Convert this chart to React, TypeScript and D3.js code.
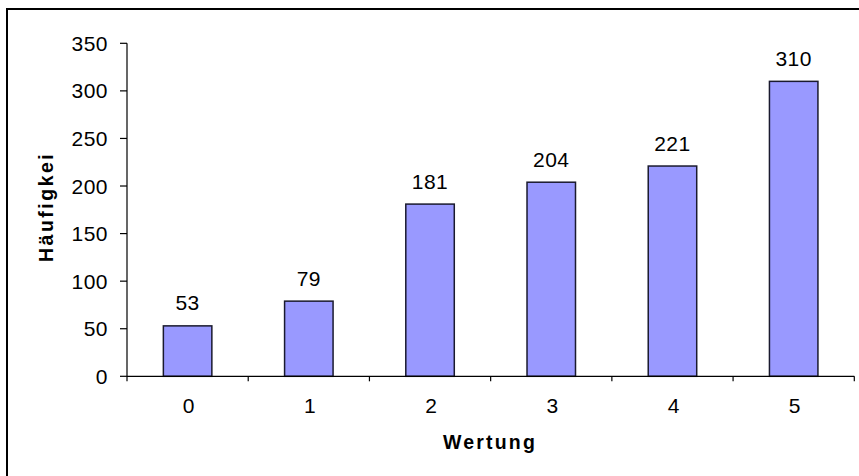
import React from "react";
import * as d3 from "d3";

const categories = ["0", "1", "2", "3", "4", "5"];
const values = [53, 79, 181, 204, 221, 310];
const yTicks = [0, 50, 100, 150, 200, 250, 300, 350];

export default function App() {
  const W = 859, H = 476;
  const x0 = 127, x1 = 854.3, yBottom = 376.3, yTop = 43.3;
  const y = d3.scaleLinear().domain([0, 350]).range([yBottom, yTop]);
  const x = d3.scaleBand<string>().domain(categories).range([x0, x1]).paddingInner(0.6).paddingOuter(0.3);
  const step = (x1 - x0) / categories.length;
  const font = "Liberation Sans, Arial, sans-serif";
  return (
    <svg width={W} height={H} style={{ position: "absolute", left: 0, top: 0 }} fontFamily={font}>
      <rect x={0} y={0} width={W} height={H} fill="#fff" />
      <rect x={7} y={9} width={W + 20} height={H + 20} fill="none" stroke="#000" strokeWidth={2} />
      <defs>
        <clipPath id="ylab">
          <rect x={0} y={153} width={100} height={200} />
        </clipPath>
      </defs>
      {values.map((v, i) => (
        <g key={i}>
          <rect
            x={x(categories[i])!}
            y={y(v)}
            width={x.bandwidth()}
            height={yBottom - y(v)}
            fill="#9999FF"
            stroke="#1a1a2e"
            strokeWidth={1.5}
          />
          <text
            x={x(categories[i])! + x.bandwidth() / 2}
            y={y(v) - 15.5}
            textAnchor="middle"
            fontSize={21}
            letterSpacing={0.5}
          >
            {v}
          </text>
        </g>
      ))}
      <line x1={x0} x2={x0} y1={yTop} y2={yBottom} stroke="#000" strokeWidth={1.2} />
      <line x1={x0} x2={x1} y1={yBottom} y2={yBottom} stroke="#000" strokeWidth={1.2} />
      {yTicks.map((t) => (
        <g key={t}>
          <line x1={x0 - 7} x2={x0} y1={y(t)} y2={y(t)} stroke="#000" strokeWidth={1.2} />
          <text x={108} y={y(t)} dy="0.36em" textAnchor="end" fontSize={21} letterSpacing={0.5}>
            {t}
          </text>
        </g>
      ))}
      {d3.range(categories.length + 1).map((i) => (
        <line key={i} x1={x0 + i * step} x2={x0 + i * step} y1={yBottom} y2={yBottom + 5} stroke="#000" strokeWidth={1.2} />
      ))}
      {categories.map((c) => (
        <text key={c} x={x(c)! + x.bandwidth() / 2 + 1} y={413} textAnchor="middle" fontSize={21}>
          {c}
        </text>
      ))}
      <text x={490} y={449} textAnchor="middle" fontSize={19.5} fontWeight="bold" letterSpacing={2.2}>
        Wertung
      </text>
      <g clipPath="url(#ylab)">
        <text
          transform={`translate(52.5,262) rotate(-90)`}
          textAnchor="start"
          fontSize={19.5}
          fontWeight="bold"
          letterSpacing={2.5}
        >
          Häufigkeit
        </text>
      </g>
    </svg>
  );
}
